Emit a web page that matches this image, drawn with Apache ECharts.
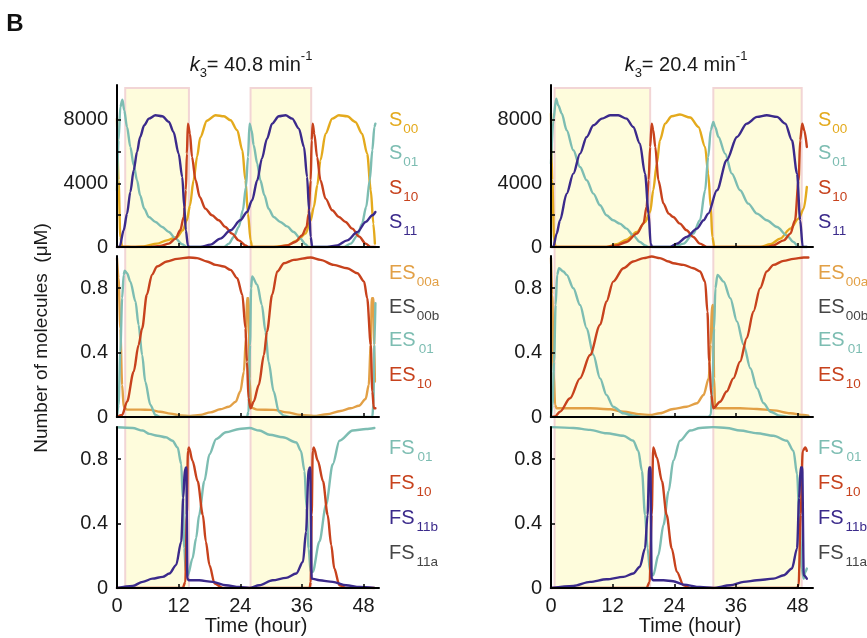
<!DOCTYPE html>
<html><head><meta charset="utf-8">
<script src="https://cdn.jsdelivr.net/npm/echarts@6/dist/echarts.min.js"></script>
<style>html,body{margin:0;padding:0;background:#fff}#c{width:867px;height:638px}</style>
</head><body><div id="c"></div>
<script>
// ---------- tick labels / categories ----------
const timeTicks = [0, 12, 24, 36, 48];
const topTicks = [0, 4000, 8000];
const fracTicks = [0, 0.4, 0.8];
const titlesL = ['k', '3', '= 40.8 min', '-1'];
const titlesR = ['k', '3', '= 20.4 min', '-1'];
const legendTop = [['S', '00'], ['S', '01'], ['S', '10'], ['S', '11']];
const legendMid = [['ES', '00a'], ['ES', '00b'], ['ES', '01'], ['ES', '10']];
const legendBot = [['FS', '01'], ['FS', '10'], ['FS', '11b'], ['FS', '11a']];
// dark (shaded) periods, hours
const darkL = [[1.6, 14.0], [26.0, 37.8]];
const darkR = [[0.7, 19.3], [31.6, 48.8]];

// ---------- left column (k3 = 40.8) ----------
const S00_L = [[0,8085],[0.3,4200],[0.65,630],[1.0,40],[3.2,0],[5.2,40],[7.8,210],[9.7,420],[11.7,630],[12.8,1050],[13.6,1680],[14.2,2600],[14.9,4200],[15.6,5700],[16.2,6900],[17.5,7950],[19.2,8300],[20.8,8230],[22.1,7980],[23.4,7350],[24.4,6090],[25.0,4200],[25.5,2100],[26.0,420],[26.3,0],[30.5,0],[33.1,100],[35.1,420],[36.7,840],[37.7,1680],[38.3,2500],[39.0,3900],[39.6,5460],[40.6,7140],[41.9,8085],[43.2,8295],[44.8,8230],[46.4,7875],[47.7,7140],[48.7,5880],[49.4,3570],[49.9,1470],[50.2,210]];
const S01_L = [[0,3570],[0.3,6720],[0.65,8820],[1.05,9280],[1.4,8610],[1.95,7560],[2.6,6300],[3.25,5145],[3.9,4200],[4.5,3255],[5.3,2415],[6.2,1890],[7.5,1575],[8.8,1260],[10.1,945],[11.4,525],[12.7,170],[13.6,0],[20.8,0],[21.8,210],[22.7,630],[23.7,1260],[24.5,2310],[25.1,3780],[25.5,5670],[25.8,7770],[26.2,7350],[26.6,6405],[27.3,5250],[27.9,4200],[28.7,3255],[29.5,2415],[30.5,1890],[31.8,1575],[33.1,1300],[34.4,945],[35.7,525],[36.7,170],[37.3,0],[44.2,0],[45.5,210],[46.8,735],[47.7,1470],[48.5,2520],[49.2,4200],[49.7,6090],[50.1,7560],[50.3,7770]];
const S10_L = [[0,0],[6.5,0],[8.4,60],[10.1,210],[11.4,525],[12.3,1050],[13.0,1890],[13.4,3570],[13.6,5880],[13.8,7770],[14.2,7140],[14.6,5670],[15.3,4200],[16.1,3150],[17.2,2415],[18.5,1995],[19.8,1680],[21.1,1260],[22.4,840],[23.7,420],[25.0,105],[25.6,0],[31.2,0],[33.1,105],[34.7,315],[36.0,735],[36.9,1260],[37.3,2100],[37.7,4200],[37.9,6720],[38.1,7770],[38.4,7140],[38.95,5670],[39.6,4200],[40.6,3045],[41.9,2310],[43.2,1890],[44.5,1575],[45.8,1155],[47.1,670],[48.4,210],[49.4,0],[50.3,0]];
const S11_L = [[0,0],[0.5,0],[1.3,1050],[1.95,2100],[2.6,3465],[3.25,4830],[3.9,5985],[4.5,6930],[5.3,7665],[6.2,8085],[7.5,8295],[8.8,8230],[10.1,7875],[11.0,7245],[12.0,5880],[12.7,4410],[13.1,2520],[13.4,1050],[13.8,105],[14.0,0],[16.2,0],[18.2,150],[20.1,525],[22.1,1050],[24.0,1680],[25.3,2205],[26.3,2940],[27.3,4200],[28.2,5565],[29.2,6825],[30.2,7770],[31.5,8230],[32.8,8295],[34.1,8085],[35.4,7455],[36.4,6300],[37.0,4410],[37.4,2310],[37.7,630],[38.0,0],[40.9,0],[42.9,105],[44.8,420],[46.8,945],[48.4,1575],[49.7,1995],[50.3,2205]];

const ES00a_L = [[0,0.987],[0.3,0.862],[0.65,0.551],[1.0,0.199],[1.3,0.064],[1.95,0.046],[4.5,0.046],[6.5,0.044],[8.4,0.033],[10.4,0.021],[12.3,0.010],[14.3,0.006],[16.2,0.012],[18.2,0.029],[20.1,0.048],[21.8,0.064],[23.1,0.095],[24.0,0.158],[24.7,0.282],[25.1,0.489],[25.3,0.738],[25.6,0.738],[25.8,0.240],[26.1,0.058],[27.3,0.046],[30.5,0.044],[33.1,0.029],[35.7,0.012],[38.3,0.006],[40.9,0.017],[43.5,0.037],[45.5,0.054],[47.1,0.070],[48.4,0.112],[49.0,0.199],[49.4,0.448],[49.6,0.738],[49.9,0.738],[50.1,0.448],[50.2,0.22]];
const ES01_L = [[0,0],[0.3,0.075],[0.65,0.406],[1.0,0.738],[1.3,0.883],[1.5,0.908],[1.95,0.893],[2.6,0.841],[3.6,0.717],[4.2,0.572],[4.9,0.385],[5.5,0.220],[6.5,0.075],[7.5,0.012],[8.4,0],[25.3,0],[25.6,0.033],[25.9,0.448],[26.1,0.80],[26.3,0.873],[27.3,0.821],[28.2,0.696],[28.9,0.531],[29.5,0.344],[30.5,0.158],[31.5,0.033],[32.5,0.008],[33.8,0],[49.7,0],[49.9,0.075],[50.1,0.448],[50.3,0.707]];
const ES10_L = [[0,0],[1.0,0.012],[1.95,0.095],[3.25,0.282],[4.2,0.448],[4.9,0.551],[5.8,0.759],[6.8,0.883],[7.8,0.935],[9.7,0.966],[11.7,0.982],[14.0,0.991],[15.6,0.987],[17.5,0.966],[19.2,0.945],[20.8,0.935],[22.1,0.914],[23.4,0.862],[24.4,0.759],[25.0,0.551],[25.3,0.344],[25.6,0.116],[26.0,0.054],[26.6,0.095],[27.6,0.199],[28.6,0.385],[29.2,0.531],[30.2,0.759],[31.2,0.904],[32.5,0.955],[34.4,0.976],[37.7,0.991],[39.6,0.976],[42.2,0.945],[44.8,0.924],[46.8,0.893],[48.1,0.841],[48.7,0.738],[49.4,0.448],[49.7,0.158],[50.0,0.054],[50.3,0.054]];

const FS01_L = [[0,0.998],[3.05,0.994],[5.0,0.978],[6.3,0.957],[7.9,0.946],[9.5,0.936],[10.8,0.915],[11.8,0.873],[12.5,0.769],[12.8,0.56],[13.1,0.246],[13.4,0.10],[13.8,0.079],[14.7,0.184],[15.4,0.309],[16.0,0.455],[17.0,0.664],[18.0,0.831],[19.3,0.925],[21.2,0.967],[23.8,0.988],[25.8,0.994],[27.7,0.978],[29.7,0.952],[32.3,0.936],[34.9,0.904],[35.8,0.852],[36.5,0.727],[36.9,0.497],[37.3,0.246],[37.7,0.10],[38.1,0.10],[39.4,0.288],[40.7,0.518],[42.0,0.769],[43.3,0.915],[45.9,0.978],[48.5,0.988],[50.1,0.994]];
const FS10_L = [[0,0],[12.8,0],[13.3,0.038],[13.6,0.455],[13.8,0.852],[14.0,0.873],[14.7,0.79],[15.7,0.664],[16.7,0.455],[17.3,0.288],[18.0,0.142],[19.0,0.027],[20.6,0],[37.5,0],[37.7,0.038],[37.9,0.455],[38.1,0.852],[38.3,0.873],[39.1,0.79],[40.1,0.664],[41.0,0.455],[41.7,0.267],[42.3,0.121],[43.3,0.017],[44.6,0],[50.1,0]];
const FS11b_L = [[0,0],[3.05,0.013],[5.0,0.038],[6.9,0.058],[8.9,0.069],[10.2,0.09],[11.5,0.142],[12.5,0.288],[12.9,0.56],[13.2,0.737],[13.5,0.748],[13.7,0.058],[14.0,0.048],[16.0,0.048],[18.6,0.038],[21.2,0.017],[23.8,0.006],[25.8,0],[27.7,0.017],[30.3,0.048],[32.9,0.063],[34.9,0.09],[36.2,0.163],[36.8,0.351],[37.3,0.737],[37.6,0.748],[37.9,0.058],[39.4,0.048],[42.0,0.038],[44.6,0.017],[47.2,0.006],[50.1,0]];

// ---------- right column (k3 = 20.4) ----------
const S00_R = [[0,8400],[0.25,4200],[0.6,420],[0.9,0],[10.8,0],[12.8,170],[14.7,460],[16.7,945],[18.3,1575],[19.3,2205],[19.9,3570],[20.6,5250],[21.2,6720],[22.2,7770],[23.5,8230],[25.1,8340],[27.1,8150],[28.7,7560],[30.0,6300],[30.6,4620],[31.1,2520],[31.4,630],[31.8,0],[40.7,0],[42.7,170],[44.6,525],[46.6,1155],[48.2,1785],[49.2,2415],[49.8,3780]];
const S01_R = [[0,5250],[0.45,7980],[1.0,9345],[1.4,8925],[2.1,8400],[3.05,7350],[4.35,6090],[5.65,5040],[6.95,4200],[8.25,3360],[9.55,2625],[10.8,1995],[12.1,1680],[13.4,1470],[14.7,1155],[16.0,735],[17.3,315],[18.3,105],[19.0,0],[23.8,0],[25.8,210],[27.7,840],[29.0,1680],[30.0,3570],[30.6,5670],[31.1,7350],[31.6,7875],[31.95,7560],[32.6,6930],[33.9,5880],[35.2,4620],[36.8,3570],[38.4,2730],[40.1,2100],[42.0,1680],[44.0,1260],[45.9,735],[47.2,315],[48.2,0],[49.8,0]];
const S10_R = [[0,0],[10.8,0],[12.8,105],[14.7,315],[16.7,840],[18.0,1470],[18.6,2520],[19.0,4200],[19.3,6300],[19.6,7770],[19.9,7350],[20.3,6300],[20.9,4200],[21.9,2730],[22.9,2100],[23.8,1890],[25.1,1470],[26.4,1050],[27.7,630],[29.0,210],[30.3,0],[42.0,0],[43.3,105],[45.3,420],[46.6,840],[47.5,1680],[48.2,4200],[48.5,6720],[48.9,7770],[49.3,7350],[49.8,6300]];
const S11_R = [[0,0],[0.45,0],[1.1,840],[1.75,1680],[3.05,3360],[4.35,4620],[5.65,5880],[6.95,6930],[8.25,7665],[9.9,8085],[11.5,8295],[13.1,8295],[14.7,8085],[16.0,7560],[17.3,6510],[18.3,4620],[19.0,2100],[19.4,210],[19.7,0],[23.2,0],[24.5,210],[26.4,630],[28.4,1155],[29.7,1680],[30.6,2100],[32.3,3570],[34.2,5460],[36.2,6930],[38.1,7770],[40.1,8190],[42.0,8295],[44.0,8190],[45.6,7770],[46.9,6720],[47.9,4620],[48.5,1680],[49.0,0],[49.8,0]];

const ES00a_R = [[0,0.987],[0.25,0.759],[0.5,0.282],[0.8,0.075],[1.1,0.054],[4.35,0.054],[7.6,0.054],[11.5,0.048],[14.1,0.033],[17.3,0.017],[19.3,0.012],[21.2,0.023],[23.8,0.050],[26.4,0.064],[28.4,0.085],[29.7,0.137],[30.7,0.240],[31.1,0.448],[31.3,0.686],[31.55,0.696],[31.75,0.24],[31.95,0.054],[32.9,0.054],[36.8,0.054],[40.1,0.050],[43.3,0.041],[46.6,0.023],[49.2,0.012],[50.1,0.008]];
const ES01_R = [[0,0],[0.3,0.075],[0.6,0.344],[0.9,0.696],[1.2,0.883],[1.56,0.924],[2.4,0.904],[3.05,0.883],[4.35,0.80],[5.65,0.696],[6.95,0.551],[8.25,0.385],[9.55,0.240],[10.8,0.137],[12.1,0.064],[14.1,0.023],[16.0,0.008],[18.0,0],[30.65,0],[31.1,0.012],[31.4,0.178],[31.75,0.551],[32.0,0.80],[32.4,0.883],[33.6,0.841],[34.9,0.738],[36.2,0.593],[37.5,0.448],[38.8,0.303],[40.1,0.178],[41.4,0.085],[42.7,0.033],[44.6,0.008],[46.6,0],[50.1,0]];
const ES10_R = [[0,0],[0.8,0.004],[1.75,0.033],[3.7,0.116],[5.65,0.240],[7.6,0.385],[9.55,0.572],[10.8,0.717],[12.1,0.841],[14.1,0.924],[16.0,0.966],[18.0,0.987],[19.6,0.997],[21.2,0.987],[22.9,0.966],[23.8,0.955],[25.8,0.945],[27.7,0.924],[29.0,0.904],[30.0,0.841],[30.45,0.655],[30.8,0.344],[31.2,0.137],[31.6,0.054],[32.9,0.095],[34.2,0.158],[35.5,0.240],[36.8,0.344],[38.1,0.489],[39.4,0.655],[40.7,0.80],[42.0,0.904],[43.3,0.945],[45.3,0.970],[47.2,0.982],[49.2,0.991],[50.1,0.991]];

const FS01_R = [[0,0.999],[4.35,0.994],[7.6,0.982],[10.8,0.961],[14.1,0.946],[16.0,0.915],[17.0,0.852],[17.7,0.727],[18.3,0.455],[18.8,0.246],[19.3,0.10],[19.9,0.079],[20.9,0.205],[21.9,0.393],[22.9,0.602],[23.8,0.79],[25.1,0.915],[27.1,0.978],[29.0,0.994],[31.6,0.999],[34.2,0.994],[36.8,0.978],[40.1,0.961],[43.3,0.946],[45.9,0.915],[47.2,0.852],[47.9,0.706],[48.4,0.393],[48.8,0.121],[49.2,0.058],[49.5,0.10],[49.8,0.121]];
const FS10_R = [[0,0],[18.6,0],[19.2,0.038],[19.6,0.455],[19.9,0.873],[20.6,0.811],[21.6,0.664],[22.5,0.455],[23.5,0.246],[24.5,0.10],[25.8,0.017],[27.1,0],[47.9,0],[48.2,0.017],[48.6,0.455],[49.0,0.852],[49.5,0.873],[49.8,0.852]];
const FS11b_R = [[0,0],[4.35,0.013],[7.6,0.038],[10.8,0.054],[14.1,0.069],[16.0,0.09],[17.3,0.132],[18.3,0.246],[18.8,0.455],[19.1,0.748],[19.35,0.748],[19.6,0.058],[19.9,0.048],[21.9,0.048],[23.8,0.042],[25.8,0.021],[29.0,0.006],[31.6,0],[34.9,0.017],[37.5,0.038],[40.1,0.048],[43.3,0.058],[45.3,0.079],[46.9,0.121],[47.9,0.246],[48.3,0.56],[48.6,0.748],[48.9,0.748],[49.2,0.079],[49.8,0.058]];

// ---------- styling / layout ----------
const FONT = '"Liberation Sans", Arial, Helvetica, sans-serif';
const INK = '#1a1a1a';
const COL = { y: '#e4aa1d', o: '#e2a046', t: '#7dbdb2', r: '#c7421d', p: '#3b2a8b', g: '#454545' };
const legendColors = [
  [COL.y, COL.t, COL.r, COL.p],
  [COL.o, COL.g, COL.t, COL.r],
  [COL.t, COL.r, COL.p, COL.g]
];
const legendRows = [[120, 153, 188, 222], [273, 307, 340, 375], [448, 483, 518, 553]];
const legendSets = [legendTop, legendMid, legendBot];
const subGap = { 'ES01': 3, 'FS01': 3, 'FS10': 2, 'FS11b': 2, 'FS11a': 2 };

const columns = [
  { left: 117, width: 262, legX: 389, titleX: 251, title: titlesL, dark: darkL, nameShift: 16,
    panels: [
      [[S00_L, COL.y], [S01_L, COL.t], [S10_L, COL.r], [S11_L, COL.p]],
      [[ES00a_L, COL.o], [ES01_L, COL.t], [ES10_L, COL.r]],
      [[FS01_L, COL.t], [FS10_L, COL.r], [FS11b_L, COL.p]]
    ] },
  { left: 551, width: 262, legX: 818, titleX: 686, title: titlesR, dark: darkR, nameShift: 16,
    panels: [
      [[S00_R, COL.y], [S01_R, COL.t], [S10_R, COL.r], [S11_R, COL.p]],
      [[ES00a_R, COL.o], [ES01_R, COL.t], [ES10_R, COL.r]],
      [[FS01_R, COL.t], [FS10_R, COL.r], [FS11b_R, COL.p]]
    ] }
];
const rows = [
  { top: 85, height: 162, max: 10200, labels: topTicks, ticks: [2000, 4000, 6000, 8000] },
  { top: 256, height: 161, max: 1.0, labels: fracTicks, ticks: [0.4, 0.8] },
  { top: 427, height: 161, max: 1.0, labels: fracTicks, ticks: [0.4, 0.8] }
];

const grid = [], xAxis = [], yAxis = [], series = [], graphic = [];

// background shading grids first (one per column, spanning all three panels)
columns.forEach(c => {
  const bg = grid.length;
  grid.push({ left: c.left, width: c.width, top: 88, height: 500, outerBoundsMode: 'none', containLabel: false });
  xAxis.push({ type: 'value', gridIndex: bg, min: 0, max: 51, show: false });
  yAxis.push({ type: 'value', gridIndex: bg, min: 0, max: 1, show: false });
  series.push({
    type: 'line', xAxisIndex: bg, yAxisIndex: bg, data: [], silent: true, z: 0,
    markArea: {
      silent: true, z: 0,
      itemStyle: { color: '#fefcdc', borderColor: '#f2d5d5', borderWidth: 2 },
      data: c.dark.map(d => [{ xAxis: d[0] }, { xAxis: d[1] }])
    }
  });
});

columns.forEach(c => {
  rows.forEach((r, ri) => {
    const gi = grid.length;
    grid.push({ left: c.left, width: c.width, top: r.top, height: r.height, outerBoundsMode: 'none', containLabel: false });
    const isBottom = ri === 2;
    xAxis.push({
      type: 'value', gridIndex: gi, min: 0, max: 51, z: 3,
      axisLine: { show: true, onZero: false, lineStyle: { color: '#000', width: 2 } },
      axisTick: { show: true, inside: true, length: 4, customValues: [12, 24, 36, 48], lineStyle: { color: '#000', width: 1.5 } },
      axisLabel: { show: isBottom, customValues: timeTicks, margin: 8, fontSize: 20, color: INK, fontFamily: FONT },
      splitLine: { show: false },
      name: isBottom ? 'Time (hour)' : '', nameLocation: 'middle', nameGap: 27,
      nameTextStyle: { fontSize: 20, color: INK, fontFamily: FONT, padding: [0, 0, 0, c.nameShift] }
    });
    yAxis.push({
      type: 'value', gridIndex: gi, min: 0, max: r.max, z: 3,
      axisLine: { show: true, onZero: false, lineStyle: { color: '#000', width: 2 } },
      axisTick: { show: true, inside: true, length: 4, customValues: r.ticks, lineStyle: { color: '#000', width: 1.5 } },
      axisLabel: { customValues: r.labels, margin: 9, fontSize: 20, color: INK, fontFamily: FONT, formatter: v => String(v) },
      splitLine: { show: false }
    });
    c.panels[ri].forEach(([data, color]) => {
      series.push({
        type: 'line', xAxisIndex: gi, yAxisIndex: gi, data: data, showSymbol: false, symbol: 'none',
        smooth: 0.3, smoothMonotone: 'x', silent: true, z: 2,
        lineStyle: { color: color, width: 2.4, join: 'round', cap: 'round' }
      });
    });
    legendSets[ri].forEach((lab, li) => {
      const key = lab[0] + lab[1];
      graphic.push({
        type: 'text', x: c.legX, y: legendRows[ri][li], silent: true,
        style: {
          text: '{m|' + lab[0] + '}{s|' + lab[1] + '}',
          align: 'left', verticalAlign: 'middle',
          rich: {
            m: { fontSize: 20, fontFamily: FONT, fill: legendColors[ri][li], lineHeight: 32, verticalAlign: 'middle' },
            s: { fontSize: 13.5, fontFamily: FONT, fill: legendColors[ri][li], lineHeight: 14, verticalAlign: 'bottom', padding: [0, 0, 0, subGap[key] || 1] }
          }
        }
      });
    });
  });
  graphic.push({
    type: 'text', x: c.titleX, y: 65, silent: true,
    style: {
      text: '{k|' + c.title[0] + '}{s|' + c.title[1] + '}{n|' + c.title[2] + '}{p|' + c.title[3] + '}',
      align: 'center', verticalAlign: 'middle',
      rich: {
        k: { fontSize: 20, fontStyle: 'italic', fontFamily: FONT, fill: INK, lineHeight: 30, verticalAlign: 'middle' },
        s: { fontSize: 13, fontFamily: FONT, fill: INK, lineHeight: 15, verticalAlign: 'bottom' },
        n: { fontSize: 20, fontFamily: FONT, fill: INK, lineHeight: 30, verticalAlign: 'middle' },
        p: { fontSize: 13, fontFamily: FONT, fill: INK, lineHeight: 22, verticalAlign: 'top' }
      }
    }
  });
});

graphic.push({
  type: 'text', x: 42, y: 338, rotation: Math.PI / 2, silent: true,
  style: { text: 'Number of molecules  (μM)', fontSize: 19, fontFamily: FONT, fill: INK, align: 'center', verticalAlign: 'middle' }
});
graphic.push({
  type: 'text', x: 15, y: 24, silent: true,
  style: { text: 'B', fontSize: 24, fontWeight: 'bold', fontFamily: FONT, fill: '#111', align: 'center', verticalAlign: 'middle' }
});

const chart = echarts.init(document.getElementById('c'), null, { renderer: 'canvas', width: 867, height: 638 });
chart.setOption({
  backgroundColor: '#ffffff',
  animation: false,
  grid: grid, xAxis: xAxis, yAxis: yAxis, series: series, graphic: graphic
});
</script>
</body></html>
